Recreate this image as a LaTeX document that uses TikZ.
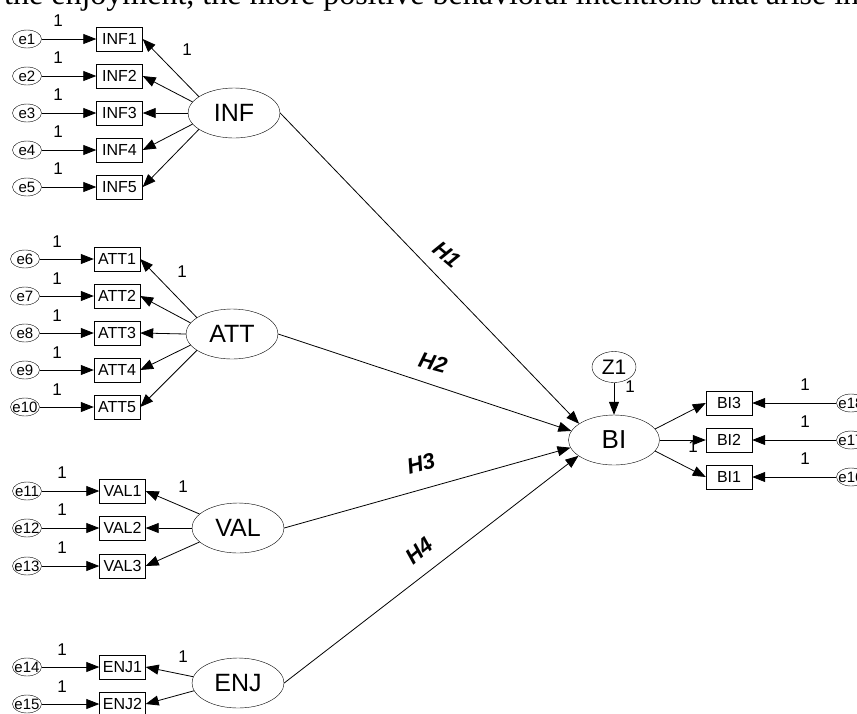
\documentclass[tikz,border=0pt]{standalone}
\usepackage{fontspec}
\setmainfont{Liberation Sans}
\newfontfamily\bodyserif{Liberation Serif}
\usetikzlibrary{arrows.meta,shapes.geometric}

\begin{document}
\begin{tikzpicture}[x=1pt,y=-1pt, every node/.style={align=center}, err/.style={ellipse,draw,inner sep=-5pt,minimum width=29pt,minimum height=18pt,font=\fontsize{15}{15}\selectfont}, obs/.style={rectangle,draw,inner sep=0pt,minimum width=46pt,minimum height=24pt,font=\fontsize{16}{16}\selectfont}, lat/.style={ellipse,draw,inner sep=0pt,minimum width=92pt,minimum height=50pt,font=\fontsize{25}{25}\selectfont}, one/.style={inner sep=0pt,font=\fontsize{17}{17}\selectfont}, hyp/.style={inner sep=0pt,font=\fontsize{22}{22}\selectfont\bfseries\itshape}, edge/.style={-{Triangle[length=13pt,width=10pt]},line width=0.8pt}]
  \useasboundingbox (0,0) rectangle (857,713);
  \node[anchor=base west,inner sep=0pt,font=\bodyserif\fontsize{32}{32}\selectfont] (txt) at (4,4) {the enjoyment, the more positive behavioral intentions that arise in};
  % INF block
  \node[lat] (inf) at (234,113) {INF};
  \node[obs] (inf1) at (119.5,39) {INF1};
  \node[obs] (inf2) at (119.5,76) {INF2};
  \node[obs] (inf3) at (119.5,113) {INF3};
  \node[obs] (inf4) at (119.5,150) {INF4};
  \node[obs] (inf5) at (119.5,187) {INF5};
  \node[err] (e1) at (27,39) {e1};
  \node[err] (e2) at (27,76) {e2};
  \node[err] (e3) at (27,113) {e3};
  \node[err] (e4) at (27,150) {e4};
  \node[err] (e5) at (27,187) {e5};
  \node[one] (w1) at (58,21) {1}; \node[one] (w2) at (58,58) {1}; \node[one] (w3) at (58,95) {1}; \node[one] (w4) at (58,132) {1}; \node[one] (w5) at (58,169) {1};
  \node[one] (winf) at (187,50) {1};
  % ATT block
  \node[lat] (att) at (232,334) {ATT};
  \node[obs] (att1) at (117,259) {ATT1};
  \node[obs] (att2) at (117,296) {ATT2};
  \node[obs] (att3) at (117,333) {ATT3};
  \node[obs] (att4) at (117,370) {ATT4};
  \node[obs] (att5) at (117,407) {ATT5};
  \node[err] (e6) at (25,259) {e6};
  \node[err] (e7) at (25,296) {e7};
  \node[err] (e8) at (25,333) {e8};
  \node[err] (e9) at (25,370) {e9};
  \node[err] (e10) at (25,407) {e10};
  \node[one] (w6) at (57,242) {1}; \node[one] (w7) at (57,279) {1}; \node[one] (w8) at (57,316) {1}; \node[one] (w9) at (57,353) {1}; \node[one] (w10) at (57,390) {1};
  \node[one] (watt) at (182,272) {1};
  % VAL block
  \node[lat] (val) at (238,528) {VAL};
  \node[obs] (val1) at (122.5,491) {VAL1};
  \node[obs] (val2) at (122.5,528) {VAL2};
  \node[obs] (val3) at (122.5,566) {VAL3};
  \node[err] (e11) at (27,491) {e11};
  \node[err] (e12) at (27,528) {e12};
  \node[err] (e13) at (27,566) {e13};
  \node[one] (w11) at (62,473) {1}; \node[one] (w12) at (62,510) {1}; \node[one] (w13) at (62,548) {1};
  \node[one] (wval) at (183,487) {1};
  % ENJ block
  \node[lat] (enj) at (238,683) {ENJ};
  \node[obs] (enj1) at (122.5,667) {ENJ1};
  \node[obs] (enj2) at (122.5,704) {ENJ2};
  \node[err] (e14) at (27,667) {e14};
  \node[err] (e15) at (27,704) {e15};
  \node[one] (w14) at (62,650) {1}; \node[one] (w15) at (62,687) {1};
  \node[one] (wenj) at (183,657) {1};
  % BI block
  \node[lat,minimum width=91pt,font=\fontsize{26}{26}\selectfont] (bi) at (614,440) {BI};
  \node[ellipse,draw,inner sep=0pt,minimum width=44pt,minimum height=31pt,font=\fontsize{21}{21}\selectfont] (z1) at (614,367) {Z1};
  \node[obs] (bi3) at (729,403) {BI3};
  \node[obs] (bi2) at (729,440) {BI2};
  \node[obs] (bi1) at (729,477) {BI1};
  \node[err] (e18) at (851,403) {e18};
  \node[err] (e17) at (851,440) {e17};
  \node[err] (e16) at (851,477) {e16};
  \node[one] (w18) at (805,385) {1}; \node[one] (w17) at (805,422) {1}; \node[one] (w16) at (805,459) {1};
  \node[one] (wz) at (630,387) {1};
  \node[one] (wbi) at (693,447) {1};
  % hypotheses
  \node[hyp,rotate=-40] (h1) at (447,255) {H1};
  \node[hyp,rotate=-15] (h2) at (433,363) {H2};
  \node[hyp,rotate=15] (h3) at (421,464) {H3};
  \node[hyp,rotate=40] (h4) at (419,551) {H4};
  % paths
  \draw[edge] (e1)--(inf1); \draw[edge] (e2)--(inf2); \draw[edge] (e3)--(inf3); \draw[edge] (e4)--(inf4); \draw[edge] (e5)--(inf5);
  \draw[edge] (inf.155)--(inf1.east); \draw[edge] (inf.165)--(inf2.east); \draw[edge] (inf.west)--(inf3.east); \draw[edge] (inf.195)--(inf4.east); \draw[edge] (inf.205)--(inf5.east);
  \draw[edge] (e6)--(att1); \draw[edge] (e7)--(att2); \draw[edge] (e8)--(att3); \draw[edge] (e9)--(att4); \draw[edge] (e10)--(att5);
  \draw[edge] (att.155)--(att1.east); \draw[edge] (att.165)--(att2.east); \draw[edge] (att.west)--(att3.east); \draw[edge] (att.195)--(att4.east); \draw[edge] (att.205)--(att5.east);
  \draw[edge] (e11)--(val1); \draw[edge] (e12)--(val2); \draw[edge] (e13)--(val3);
  \draw[edge] (val.160)--(val1.east); \draw[edge] (val.west)--(val2.east); \draw[edge] (val.200)--(val3.east);
  \draw[edge] (e14)--(enj1); \draw[edge] (e15)--(enj2);
  \draw[edge] (enj.172)--(enj1.east); \draw[edge] (enj.190)--(enj2.east);
  \draw[edge] (z1)--(bi);
  \draw[edge] (bi.15)--(bi3.west); \draw[edge] (bi)--(bi2); \draw[edge] (bi.-15)--(bi1.west);
  \draw[edge] (e18)--(bi3); \draw[edge] (e17)--(bi2); \draw[edge] (e16)--(bi1);
  \draw[edge] (inf.east)--(bi.155); \draw[edge] (att.east)--(bi.168); \draw[edge] (val.east)--(bi.190); \draw[edge] (enj.east)--(bi.204);
\end{tikzpicture}
\end{document}
